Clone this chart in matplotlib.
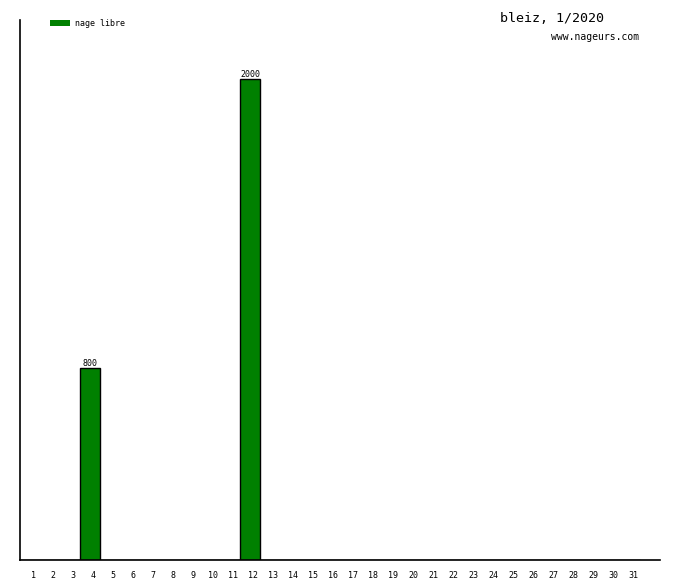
import matplotlib
matplotlib.use("Agg")
import matplotlib.pyplot as plt
from matplotlib.patches import Rectangle
from matplotlib.transforms import ScaledTranslation

days = list(range(1, 32))
values = [0, 0, 0, 800, 0, 0, 0, 0, 0, 0, 0, 2000] + [0] * 19
series_name = "nage libre"
title = "bleiz, 1/2020"
site = "www.nageurs.com"

W, H = 680, 580
fig = plt.figure(figsize=(W / 100, H / 100), dpi=100)
ax = fig.add_axes([20 / W, 20 / H, 640 / W, 540 / H])

bars = ax.bar(days, values, width=1.0, color="#008000", edgecolor="black", linewidth=1)
for d, v in zip(days, values):
    if v > 0:
        ax.text(d, v, str(v), ha="center", va="bottom", fontsize=6,
                family="DejaVu Sans Mono")

ax.set_xlim(0.5, 32.5)
ax.set_ylim(0, 2245)
ax.spines["top"].set_visible(False)
ax.spines["right"].set_visible(False)
ax.spines["left"].set_linewidth(1.2)
ax.spines["bottom"].set_linewidth(1.2)
ax.set_yticks([])
ax.set_xticks(days)
ax.set_xticklabels([str(d) for d in days], family="DejaVu Sans Mono", fontsize=6)
ax.tick_params(axis="x", length=0, pad=8)
offset = ScaledTranslation(3 / 100, 0, fig.dpi_scale_trans)
for lbl in ax.get_xticklabels():
    lbl.set_transform(lbl.get_transform() + offset)

# legend
fig.patches.append(Rectangle((50 / W, 1 - 26 / H), 20 / W, 6 / H, transform=fig.transFigure,
                             facecolor="#008000", edgecolor="none"))
fig.text(75 / W, 1 - 23 / H, series_name, fontsize=6, family="DejaVu Sans Mono", va="center")

fig.text(552 / W, 1 - 18 / H, title, fontsize=9.6, family="DejaVu Sans Mono", ha="center", va="center")
fig.text(639 / W, 1 - 37 / H, site, fontsize=7, family="DejaVu Sans Mono", ha="right", va="center")

fig.savefig("out.png", dpi=100)
